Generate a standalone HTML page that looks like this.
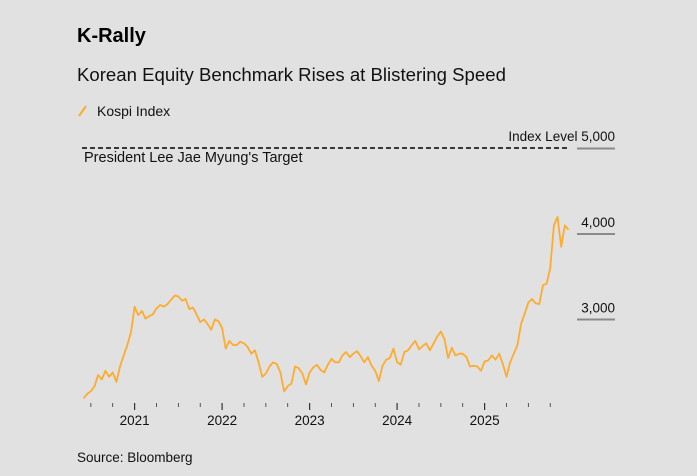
<!DOCTYPE html>
<html><head><meta charset="utf-8"><style>
body{margin:0;background:#e1e1e1;font-family:"Liberation Sans",sans-serif;}
svg{display:block}
</style></head><body>
<svg id="c" width="697" height="476">
<rect width="697" height="476" fill="#e1e1e1"/>
<text x="77" y="42" font-size="20" font-weight="bold" fill="#000">K-Rally</text>
<text x="77" y="81" font-size="18.6" fill="#111">Korean Equity Benchmark Rises at Blistering Speed</text>
<g>
<line x1="79" y1="116" x2="86" y2="106" stroke="#ffab2e" stroke-width="2"/>
<text x="97" y="116" font-size="14" fill="#111">Kospi Index</text>
</g>
<line x1="82" y1="148" x2="570" y2="148" stroke="#000" stroke-width="1.6" stroke-dasharray="5,3"/>
<text x="84" y="162" font-size="14.5" fill="#111">President Lee Jae Myung's Target</text>
<text x="615" y="141" font-size="13.5" fill="#111" text-anchor="end">Index Level 5,000</text>
<g id="yaxis"></g>
<g id="xaxis"></g>
<path id="line" fill="none" stroke="#ffab2e" stroke-width="1.8" stroke-linejoin="round"/>
<text x="77" y="462" font-size="13.5" fill="#111">Source: Bloomberg</text>
</svg>
<script>
const yTicks=[3000,4000,5000];
const yTickLabels=["3,000","4,000",""];
const years=[2021,2022,2023,2024,2025];
const startYear=2020+5/12;
const kospi=[2080,2130,2160,2220,2350,2300,2400,2330,2380,2270,2450,2580,2700,2850,
3150,3050,3100,3010,3040,3060,3130,3170,3150,3180,3230,3280,3270,3220,3240,3120,3140,3060,2970,3000,2950,2880,3000,2980,
2900,2660,2750,2700,2700,2740,2720,2680,2600,2640,2500,2330,2370,2450,2500,2480,2380,2160,2220,2250,2450,2430,2370,2240,
2380,2440,2470,2410,2380,2470,2540,2500,2500,2580,2620,2560,2600,2630,2570,2500,2560,2460,2400,2280,2460,2530,2550,2660,
2500,2470,2620,2640,2700,2750,2650,2690,2720,2640,2720,2800,2860,2770,2550,2670,2580,2600,2600,2560,2450,2460,2450,2400,
2510,2520,2580,2530,2600,2480,2330,2500,2600,2700,2950,3070,3200,3240,3190,3180,3400,3420,3600,4100,4200,3850,4100,4050];
const xS=t=>134.6+(t-2021)*87.5;
const yS=v=>319.5-(v-3000)*0.0855;
const NS="http://www.w3.org/2000/svg";
const ya=document.getElementById('yaxis'),xa=document.getElementById('xaxis');
yTicks.forEach((v,i)=>{
 const l=document.createElementNS(NS,'line');
 l.setAttribute('x1',577);l.setAttribute('x2',615);l.setAttribute('y1',yS(v));l.setAttribute('y2',yS(v));
 l.setAttribute('stroke','#8a8a8a');l.setAttribute('stroke-width','2');
 
 
 ya.appendChild(l);
 if(yTickLabels[i]){
 const t=document.createElementNS(NS,'text');
 t.setAttribute('x',615);t.setAttribute('y',yS(v)-7);t.setAttribute('text-anchor','end');
 t.setAttribute('font-size','13.5');t.setAttribute('fill','#111');t.textContent=yTickLabels[i];
 
 
 ya.appendChild(t);}
});
for(let q=2020.5;q<=2025.76;q+=0.25){
 const major=Math.abs(q-Math.round(q))<0.01;
 const l=document.createElementNS(NS,'line');
 l.setAttribute('x1',xS(q));l.setAttribute('x2',xS(q));l.setAttribute('y1',403);l.setAttribute('y2',major?410:407);
 l.setAttribute('stroke','#333');l.setAttribute('stroke-width',major?1.2:0.8);
 
 
 xa.appendChild(l);
}
years.forEach(y=>{
 const t=document.createElementNS(NS,'text');
 t.setAttribute('x',xS(y));t.setAttribute('y',425);t.setAttribute('text-anchor','middle');
 t.setAttribute('font-size','13.5');t.setAttribute('fill','#111');t.textContent=y;
 
 
 xa.appendChild(t);
});
document.getElementById('line').setAttribute('d',kospi.map((v,i)=>(i?'L':'M')+xS(startYear+i/24).toFixed(1)+','+yS(v).toFixed(1)).join(''));
</script>
</body></html>
